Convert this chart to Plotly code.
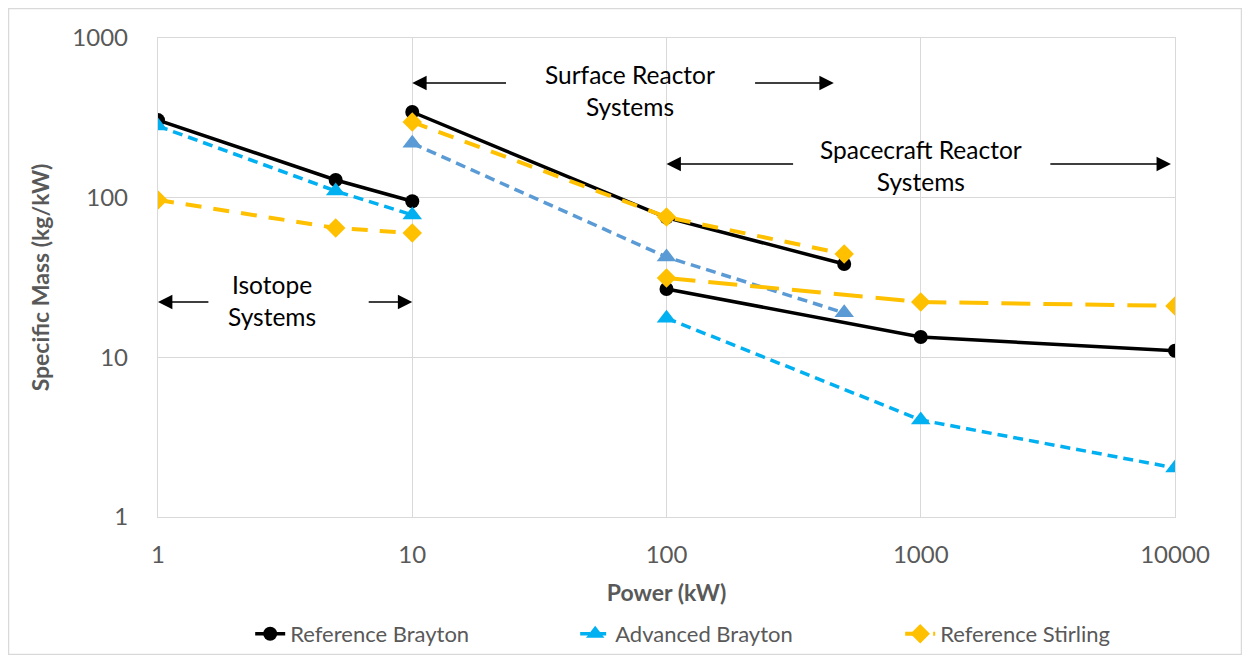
import numpy as np
import plotly.graph_objects as go

# ---------------- data ----------------
power_isotope = [1, 5, 10]
power_surface = [10, 100, 500]
power_spacecraft = [100, 1000, 10000]

ref_brayton_isotope = [306, 129, 95]
ref_brayton_surface = [344, 75, 38.4]
ref_brayton_spacecraft = [26.8, 13.4, 11.0]

adv_brayton_isotope = [281, 110, 78]
adv_brayton_surface = [219, 42.5, 19]
adv_brayton_spacecraft = [17.6, 4.05, 2.03]

ref_stirling_isotope = [96.7, 64.6, 60]
ref_stirling_surface = [298, 75.7, 44.4]
ref_stirling_spacecraft = [31.4, 22.2, 21]

x_tick_vals = [1, 10, 100, 1000, 10000]
x_tick_text = ["1", "10", "100", "1000", "10000"]
y_tick_vals = [1, 10, 100, 1000]
y_tick_text = ["1", "10", "100", "1000"]

series_names = ["Reference Brayton", "Advanced Brayton", "Reference Stirling"]

# ---------------- styles ----------------
FONT = "Lato, 'Open Sans', sans-serif"
GRAY = "#595959"
GRID = "#D9D9D9"
BLACK = "#000000"
BLUE = "#00B0F0"
STEEL = "#5B9BD5"
GOLD = "#FFC000"

fig = go.Figure()


def add_seg(x, y, name, color, dash, symbol, msize, width, show):
    fig.add_trace(go.Scatter(
        x=x, y=y, mode="lines+markers", name=name, legendgroup=name,
        showlegend=show,
        line=dict(color=color, width=width, dash=dash),
        marker=dict(color=color, symbol=symbol, size=msize,
                    line=dict(width=0)),
    ))


# Reference Brayton
add_seg(power_isotope, ref_brayton_isotope, series_names[0], BLACK, "solid", "circle", 14, 3.5, True)
add_seg(power_surface, ref_brayton_surface, series_names[0], BLACK, "solid", "circle", 14, 3.5, False)
add_seg(power_spacecraft, ref_brayton_spacecraft, series_names[0], BLACK, "solid", "circle", 14, 3.5, False)

# Advanced Brayton
add_seg(power_isotope, adv_brayton_isotope, series_names[1], BLUE, "10px,6px", "triangle-up", 17, 3.5, True)
add_seg(power_surface, adv_brayton_surface, series_names[1], STEEL, "10px,6px", "triangle-up", 17, 3.5, False)
add_seg(power_spacecraft, adv_brayton_spacecraft, series_names[1], BLUE, "10px,6px", "triangle-up", 17, 3.5, False)

# Reference Stirling
add_seg(power_isotope, ref_stirling_isotope, series_names[2], GOLD, "16px,12px", "diamond", 15, 4, True)
add_seg(power_surface, ref_stirling_surface, series_names[2], GOLD, "16px,12px", "diamond", 15, 4, False)
add_seg(power_spacecraft, ref_stirling_spacecraft, series_names[2], GOLD, "29px,13px", "diamond", 15, 4, False)

L = np.log10

# white boxes behind region labels (hide gridlines)
for bx0, bx1, by0, by1 in [(1.374, 2.339, 2.424, 2.969),
                           (2.504, 3.504, 1.923, 2.499),
                           (0.205, 0.823, 1.109, 1.578)]:
    fig.add_shape(type="rect", xref="x", yref="y", layer="between",
                  x0=bx0, x1=bx1, y0=by0, y1=by1,
                  fillcolor="white", line=dict(width=0))

# outer chart border
fig.add_shape(type="rect", xref="paper", yref="paper",
              x0=-0.147, x1=1.0654, y0=-0.2871, y1=1.0616,
              line=dict(color=GRID, width=1.5), fillcolor="rgba(0,0,0,0)")

ann_font = dict(family=FONT, size=24.5, color=BLACK)


def arrow(tail_x, head_x, y):
    fig.add_annotation(x=L(head_x), y=L(y), ax=L(tail_x), ay=L(y),
                       xref="x", yref="y", axref="x", ayref="y",
                       text="", showarrow=True, arrowhead=2, arrowsize=1.8,
                       arrowwidth=1.6, arrowcolor=BLACK)


def label(x, y, text):
    fig.add_annotation(x=L(x), y=L(y), xref="x", yref="y", text=text,
                       showarrow=False, font=ann_font, align="center")


# Isotope Systems
arrow(1.60, 1.0, 22.2)
arrow(6.65, 10.0, 22.2)
label(2.81, 22.6, "Isotope<br>Systems")

# Surface Reactor Systems
arrow(23.7, 10.0, 523)
arrow(220, 455, 523)
label(72, 472, "Surface Reactor<br>Systems")

# Spacecraft Reactor Systems
arrow(319, 100, 162.5)
arrow(3190, 9640, 162.5)
label(1000, 158, "Spacecraft Reactor<br>Systems")

axis_common = dict(
    type="log", showgrid=True, gridcolor=GRID, gridwidth=1.3,
    showline=True, linecolor=GRID, linewidth=1.3, mirror=True,
    ticks="", zeroline=False, automargin=False,
    tickfont=dict(family=FONT, size=24, color=GRAY),
)

fig.update_layout(
    width=1234, height=647,
    paper_bgcolor="white", plot_bgcolor="white",
    margin=dict(l=150, r=67, t=30, b=138, autoexpand=False),
    font=dict(family=FONT, color=GRAY),
    xaxis=dict(range=[0, 4], tickvals=x_tick_vals, ticktext=x_tick_text,
               ticklabelstandoff=16,
               title=dict(text="<b>Power (kW)</b>", standoff=17,
                          font=dict(family=FONT, size=23, color=GRAY)),
               **axis_common),
    yaxis=dict(range=[0, 3], tickvals=y_tick_vals, ticktext=y_tick_text,
               ticklabelstandoff=24,
               title=dict(text="<b>Specific Mass (kg/kW)</b>", standoff=16,
                          font=dict(family=FONT, size=23, color=GRAY)),
               **axis_common),
    legend=dict(orientation="h", x=0.57, xanchor="center", y=-0.244,
                yanchor="middle", font=dict(family=FONT, size=22, color=GRAY),
                entrywidth=280, bgcolor="rgba(0,0,0,0)"),
)

fig.write_html("out.html")
